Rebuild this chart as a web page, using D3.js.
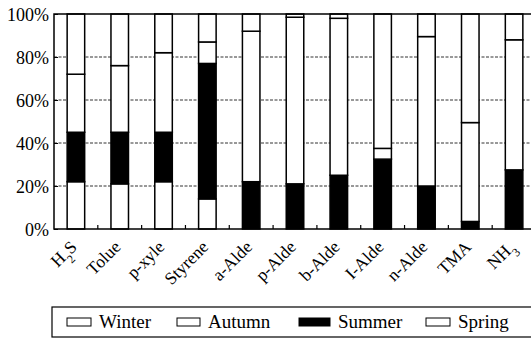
<!DOCTYPE html>
<html>
<head>
<meta charset="utf-8">
<script src="https://cdn.jsdelivr.net/npm/d3@7"></script>
<style>
  body { margin: 0; background: #fff; }
  svg { display: block; }
</style>
</head>
<body>
<svg width="531" height="339"></svg>
<script>
// categories and seasonal shares (%), stacked bottom -> top: Spring, Summer, Autumn, Winter
const categories = ['H2S', 'Tolue', 'p-xyle', 'Styrene', 'a-Alde', 'p-Alde', 'b-Alde', 'I-Alde', 'n-Alde', 'TMA', 'NH3'];
const spring = [22, 21, 22, 14, 0, 0, 0, 0, 0, 0, 0];
const summer = [23, 24, 23, 63, 22, 21, 25, 32.5, 20, 3.5, 27.5];
const autumn = [27, 31, 37, 10, 70, 77.5, 73, 5, 69.5, 46, 60.5];
const winter = [28, 24, 18, 13, 8, 1.5, 2, 62.5, 10.5, 50.5, 12];
const yTicks = [0, 20, 40, 60, 80, 100];
const legendNames = ['Winter', 'Autumn', 'Summer', 'Spring'];

const seriesKeys = ['Spring', 'Summer', 'Autumn', 'Winter'];
const fills = { Spring: '#fff', Summer: '#000', Autumn: '#fff', Winter: '#fff' };
const serif = "'Liberation Serif', 'DejaVu Serif', serif";

const rows = categories.map((c, i) => ({
  cat: c, Spring: spring[i], Summer: summer[i], Autumn: autumn[i], Winter: winter[i]
}));

const plotLeft = 54, plotRight = 536, plotTop = 14, plotBottom = 229;

const svg = d3.select('svg');

const x = d3.scaleBand()
  .domain(categories)
  .range([plotLeft, plotRight])
  .paddingInner(0.6)
  .paddingOuter(0.3);

const y = d3.scaleLinear()
  .domain([0, 100])
  .range([plotBottom, plotTop]);

// dashed gridlines
svg.append('g')
  .selectAll('line')
  .data(yTicks.filter(t => t > 0 && t < 100))
  .enter()
  .append('line')
  .attr('x1', plotLeft).attr('x2', plotRight)
  .attr('y1', d => y(d)).attr('y2', d => y(d))
  .attr('stroke', '#333')
  .attr('stroke-width', 1)
  .attr('stroke-dasharray', '3,1.5');

// stacked bars
const stack = d3.stack().keys(seriesKeys)(rows);

svg.append('g')
  .selectAll('g')
  .data(stack)
  .enter()
  .append('g')
  .attr('fill', d => fills[d.key])
  .selectAll('rect')
  .data(d => d.filter(s => s[1] - s[0] > 0))
  .enter()
  .append('rect')
  .attr('x', d => x(d.data.cat))
  .attr('y', d => y(d[1]))
  .attr('height', d => y(d[0]) - y(d[1]))
  .attr('width', x.bandwidth())
  .attr('stroke', '#000')
  .attr('stroke-width', 1.5);

// frame
svg.append('rect')
  .attr('x', plotLeft).attr('y', plotTop)
  .attr('width', plotRight - plotLeft).attr('height', plotBottom - plotTop)
  .attr('fill', 'none')
  .attr('stroke', '#000')
  .attr('stroke-width', 1.5);

// y axis
const yAxis = svg.append('g')
  .attr('transform', `translate(${plotLeft},0)`)
  .call(d3.axisLeft(y).tickValues(yTicks).tickFormat(d => d + '%').tickSize(-4).tickPadding(5));
yAxis.select('.domain').remove();
yAxis.attr('font-family', serif).attr('font-size', 18);
yAxis.selectAll('line').attr('stroke', '#000');
yAxis.selectAll('text').attr('fill', '#000').attr('dy', '0.36em');

// bottom ticks at band boundaries
const step = x.step();
svg.append('g')
  .selectAll('line')
  .data(categories.slice(1))
  .enter()
  .append('line')
  .attr('x1', d => x(d) - step * 0.3)
  .attr('x2', d => x(d) - step * 0.3)
  .attr('y1', plotBottom)
  .attr('y2', plotBottom - 4)
  .attr('stroke', '#000')
  .attr('stroke-width', 1.2);

// x labels, rotated
const xl = svg.append('g')
  .attr('font-family', serif)
  .attr('font-size', 17.5)
  .selectAll('text')
  .data(categories)
  .enter()
  .append('text')
  .attr('text-anchor', 'end')
  .attr('transform', d => `translate(${x(d) + x.bandwidth() / 2 + 2},${plotBottom + 19}) rotate(-45)`);

xl.each(function (d) {
  const t = d3.select(this);
  const m = d.match(/^([A-Z]+)(\d)(\w*)$/);
  if (m) {
    t.append('tspan').text(m[1]);
    t.append('tspan').attr('baseline-shift', 'sub').attr('font-size', 12).text(m[2]);
    if (m[3]) t.append('tspan').text(m[3]);
  } else {
    t.text(d);
  }
});

// legend
const legend = svg.append('g').attr('font-family', serif).attr('font-size', 19);
legend.append('rect')
  .attr('x', 52).attr('y', 307)
  .attr('width', 500).attr('height', 30)
  .attr('fill', '#fff')
  .attr('stroke', '#000')
  .attr('stroke-width', 1.2);

const legendX = [67, 177, 299, 426];
const swatchW = [24, 23, 31, 24];
legendNames.forEach((name, i) => {
  legend.append('rect')
    .attr('x', legendX[i]).attr('y', 318)
    .attr('width', swatchW[i]).attr('height', 8)
    .attr('fill', fills[name])
    .attr('stroke', '#000')
    .attr('stroke-width', 1);
  legend.append('text')
    .attr('x', legendX[i] + swatchW[i] + 8)
    .attr('y', 328)
    .text(name);
});
</script>
</body>
</html>
